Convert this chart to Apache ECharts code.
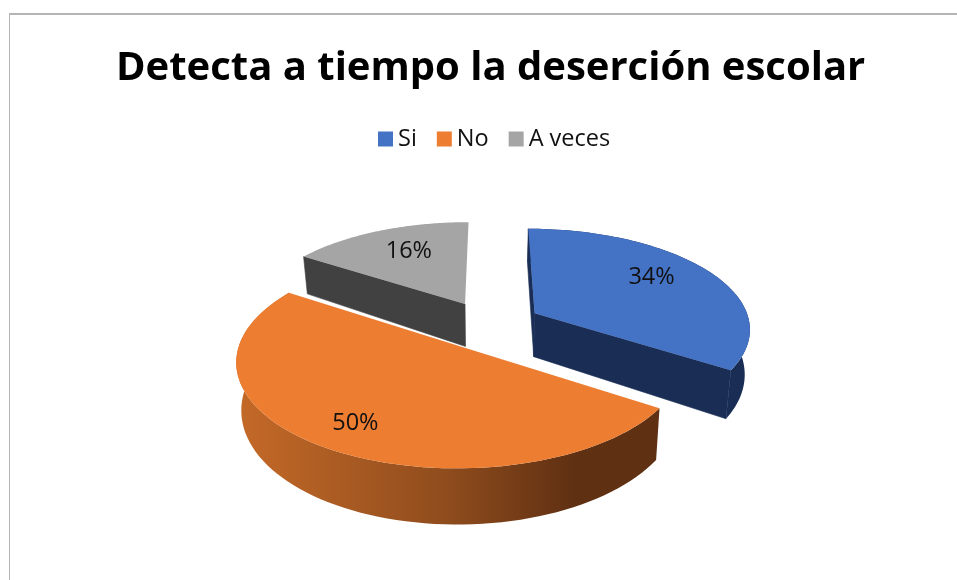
<!DOCTYPE html>
<html>
<head>
<meta charset="utf-8">
<style>
  html, body { margin: 0; padding: 0; background: #fff; }
  #main { width: 957px; height: 580px; }
</style>
<script src="https://cdn.jsdelivr.net/npm/echarts@6/dist/echarts.min.js"></script>
</head>
<body>
<div id="main"></div>
<script>
const categorias = ["Si", "No", "A veces"];
const valores = [34, 50, 16];
const colores = ["#4472C4", "#ED7D31", "#A5A5A5"];
const coloresCara = ["#1A2D55", "#5F3012", "#414141"];

// layout of the tilted pie
const cx = 489.5, cy = 325, ejeX = 218, ejeY = 103;
const persp = 0.14, perspGrosor = 0.22, separa = 0.24, radio = 0.99, grosor = 44.5, encoge = 0.02;
const radioEtiqueta = [0.7, 0.775, 0.668];
const giroEtiqueta = [-4, 0.5, 2]; // degrees off the slice's middle

const total = valores.reduce((a, b) => a + b, 0);
const inicio = valores.map((v, i) =>
  valores.slice(0, i).reduce((a, b) => a + b, 0) / total * Math.PI * 2
);

const proyecta = (X, Y, d) => {
  const s = 1 + persp * Y;
  return [
    cx + ejeX * X * s * (1 - encoge * d),
    cy + ejeY * Y * s + grosor * (1 + perspGrosor * Y) * d,
  ];
};

const rebanada = (i) => {
  const a0 = inicio[i];
  const a1 = a0 + (valores[i] / total) * Math.PI * 2;
  const mid = (a0 + a1) / 2;
  const ox = separa * Math.sin(mid), oy = -separa * Math.cos(mid);
  const punto = (a, r, d) => proyecta(ox + r * Math.sin(a), oy - r * Math.cos(a), d);
  const arco = (d) => {
    const pts = [];
    for (let k = 0; k <= 80; k++) pts.push(punto(a0 + ((a1 - a0) * k) / 80, radio, d));
    return pts;
  };
  const pared = arco(0).concat(arco(1).reverse());
  const cara = (a) => [punto(a, 0, 0), punto(a, radio, 0), punto(a, radio, 1), punto(a, 0, 1)];
  const tapa = [punto(a0, 0, 0)].concat(arco(0));
  // the gray slice only shows its left cut, its wall is at the back
  const caras = i === 2 ? [cara(a0)] : i === 1 ? [] : [cara(a0), cara(a1)];
  const aEtiqueta = mid + (giroEtiqueta[i] * Math.PI) / 180;
  return { pared: i === 2 ? null : pared, tapa, caras, etiqueta: punto(aEtiqueta, radioEtiqueta[i], 0) };
};

const rellenoPared = (i) => {
  if (i !== 1) return coloresCara[i];
  return {
    type: "linear", global: true, x: 235, y: 0, x2: 660, y2: 0,
    colorStops: [
      { offset: 0, color: "#C56A28" },
      { offset: 0.5, color: "#8F4C1D" },
      { offset: 0.8, color: "#5F3012" },
      { offset: 1, color: "#5F3012" },
    ],
  };
};

const dibuja = (i) => () => {
  const r = rebanada(i);
  const poly = (points, fill, stroke) => ({
    type: "polygon",
    shape: { points },
    style: { fill, stroke: stroke || null, lineWidth: stroke ? 0.6 : 0 },
  });
  const caras = [];
  if (r.pared) caras.push(poly(r.pared, rellenoPared(i)));
  r.caras.forEach((c) => caras.push(poly(c, coloresCara[i], coloresCara[i])));
  return {
    type: "group",
    children: [
      ...caras,
      poly(r.tapa, colores[i]),
      {
        type: "text",
        style: {
          x: r.etiqueta[0],
          y: r.etiqueta[1],
          text: valores[i] + "%",
          fill: "#111",
          font: '23.5px "Open Sans"',
          align: "center",
          verticalAlign: "middle",
        },
      },
    ],
  };
};

const chart = echarts.init(document.getElementById("main"));
chart.setOption({
  animation: false,
  title: {
    text: "Detecta a tiempo la deserción escolar",
    left: 111,
    top: 44,
    textStyle: {
      fontFamily: "Open Sans",
      fontSize: 40,
      fontWeight: "bold",
      color: "#000",
    },
  },
  legend: {
    data: categorias,
    left: 373,
    top: 122,
    icon: "rect",
    itemWidth: 15,
    itemHeight: 15,
    itemGap: 20,
    selectedMode: false,
    textStyle: { fontFamily: "Open Sans", fontSize: 23.5, color: "#111" },
  },
  graphic: [
    { type: "rect", shape: { x: 9, y: 13, width: 948, height: 2 }, style: { fill: "#B4B4B4" } },
    { type: "rect", shape: { x: 9, y: 13, width: 1, height: 567 }, style: { fill: "#B4B4B4" } },
  ],
  // gray first, orange last: orange sits on top of gray's wall
  series: [2, 0, 1].map((i) => ({
    type: "custom",
    name: categorias[i],
    coordinateSystem: "none",
    itemStyle: { color: colores[i] },
    data: [valores[i]],
    renderItem: dibuja(i),
  })),
});
window.addEventListener("resize", () => chart.resize());
</script>
</body>
</html>
